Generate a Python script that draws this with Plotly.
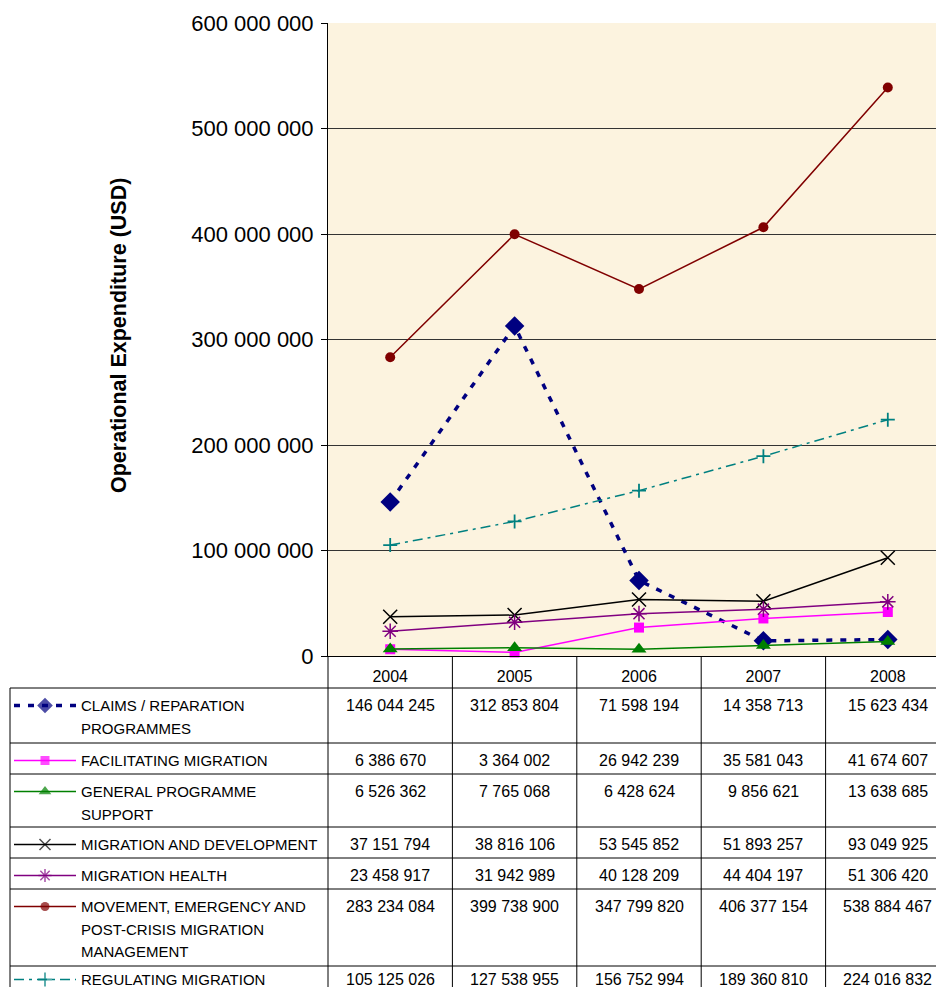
import plotly.graph_objects as go

# ---------------- data ----------------
years = ["2004", "2005", "2006", "2007", "2008"]

claims = [146044245, 312853804, 71598194, 14358713, 15623434]
facilitating = [6386670, 3364002, 26942239, 35581043, 41674607]
general_support = [6526362, 7765068, 6428624, 9856621, 13638685]
migration_dev = [37151794, 38816106, 53545852, 51893257, 93049925]
migration_health = [23458917, 31942989, 40128209, 44404197, 51306420]
movement = [283234084, 399738900, 347799820, 406377154, 538884467]
regulating = [105125026, 127538955, 156752994, 189360810, 224016832]

series_labels = [
    ["CLAIMS / REPARATION", "PROGRAMMES"],
    ["FACILITATING MIGRATION"],
    ["GENERAL PROGRAMME", "SUPPORT"],
    ["MIGRATION AND DEVELOPMENT"],
    ["MIGRATION HEALTH"],
    ["MOVEMENT, EMERGENCY AND", "POST-CRISIS MIGRATION", "MANAGEMENT"],
    ["REGULATING MIGRATION"],
]
series_values = [claims, facilitating, general_support, migration_dev,
                 migration_health, movement, regulating]

y_tickvals = [0, 100e6, 200e6, 300e6, 400e6, 500e6, 600e6]
y_ticktext = ["0", "100 000 000", "200 000 000", "300 000 000",
              "400 000 000", "500 000 000", "600 000 000"]

# ---------------- styles ----------------
styles = [
    dict(color="#000080", width=3.5, dash="6px,8px", symbol="diamond", size=15, mlw=0, ksize=12),
    dict(color="#FF00FF", width=1.5, dash="solid", symbol="square", size=10, mlw=0, ksize=9),
    dict(color="#008000", width=1.5, dash="solid", symbol="triangle-up", size=13, mlw=0, ksize=11),
    dict(color="#000000", width=1.5, dash="solid", symbol="x-thin-open", size=14, mlw=1.5, ksize=11),
    dict(color="#800080", width=1.5, dash="solid", symbol="asterisk-open", size=13, mlw=1.5, ksize=11),
    dict(color="#800000", width=1.5, dash="solid", symbol="circle", size=10, mlw=0, ksize=9),
    dict(color="#008080", width=1.5, dash="10px,5px,3px,5px", symbol="cross-thin-open", size=10, mlw=1.8, ksize=10),
]

W, H = 936, 987
PL, PT, PB = 328, 23, 656
PR = W
COLW = 124.4
XMAX = -0.5 + (PR - PL) / COLW
FONT = "Liberation Sans, Arial, sans-serif"
BG = "#FCF3DF"

fig = go.Figure()

# main series
for name, vals, st in zip(series_labels, series_values, styles):
    fig.add_trace(go.Scatter(
        x=list(range(len(years))), y=vals, mode="lines+markers",
        name=" ".join(name),
        line=dict(color=st["color"], width=st["width"], dash=st["dash"]),
        marker=dict(symbol=st["symbol"], size=st["size"], color=st["color"],
                    line=dict(color=st["color"], width=st["mlw"])),
        xaxis="x", yaxis="y", showlegend=False, cliponaxis=False,
    ))

# ---------------- data table ----------------
shapes = []
annotations = []
row_top0 = 688
line_h = 22.5
row_heights = [55, 31, 53, 31, 31, 77, 31]
row_tops = [row_top0]
for h in row_heights:
    row_tops.append(row_tops[-1] + h)

col_edges = [PL + k * COLW for k in range(len(years) + 1)]

def hline(y, x0, x1):
    shapes.append(dict(type="line", xref="x2", yref="y2", x0=x0, x1=x1, y0=y, y1=y,
                       line=dict(color="black", width=1)))

def vline(x, y0, y1):
    shapes.append(dict(type="line", xref="x2", yref="y2", x0=x, x1=x, y0=y0, y1=y1,
                       line=dict(color="black", width=1)))

for yt in row_tops:
    hline(yt, 10, W + 20)
vline(10, row_top0, row_tops[-1])
for xe in col_edges:
    vline(xe, PB, row_tops[-1])

n_rows = len(series_labels)
for i, (lbl, vals, st) in enumerate(zip(series_labels, series_values, styles)):
    top = row_tops[i]
    yc = top + (13.5 if i == n_rows - 1 else 17.5)
    # legend key
    fig.add_trace(go.Scatter(
        x=[14, 45, 76], y=[yc, yc, yc], mode="lines+markers",
        line=dict(color=st["color"], width=st["width"], dash=st["dash"]),
        marker=dict(symbol=st["symbol"], size=[0, st["ksize"], 0], color=st["color"],
                    line=dict(color=st["color"], width=st["mlw"])),
        xaxis="x2", yaxis="y2", showlegend=False, hoverinfo="skip",
    ))
    for k, txt in enumerate(lbl):
        annotations.append(dict(xref="x2", yref="y2", x=79, y=yc + k * line_h,
                                text=txt, showarrow=False, xanchor="left", yanchor="middle",
                                font=dict(family=FONT, size=15, color="black")))
    for j, v in enumerate(vals):
        annotations.append(dict(xref="x2", yref="y2", x=PL + (j + 0.5) * COLW, y=yc,
                                text=f"{v:,}".replace(",", " "), showarrow=False,
                                xanchor="center", yanchor="middle",
                                font=dict(family=FONT, size=16, color="black")))

# y-axis title
annotations.append(dict(xref="x2", yref="y2", x=119, y=336,
                        text="<b>Operational Expenditure (USD)</b>", textangle=-90,
                        showarrow=False, xanchor="center", yanchor="middle",
                        font=dict(family=FONT, size=21.5, color="black")))

# plot background
shapes.insert(0, dict(type="rect", xref="x domain", yref="y domain", x0=0, x1=1, y0=0, y1=1,
                      fillcolor=BG, line=dict(width=0), layer="below"))

fig.update_layout(
    width=W, height=H,
    margin=dict(l=0, r=0, t=0, b=0),
    paper_bgcolor="white", plot_bgcolor="rgba(0,0,0,0)",
    xaxis=dict(domain=[PL / W, 1], range=[-0.5, XMAX], tickvals=list(range(len(years))),
               ticktext=years, showgrid=False, zeroline=False, showline=True,
               linecolor="black", linewidth=1, ticks="", ticklabelstandoff=6,
               tickfont=dict(family=FONT, size=16, color="black"), automargin=False,
               fixedrange=True, anchor="y"),
    yaxis=dict(domain=[(H - PB) / H, (H - PT) / H], range=[0, 600e6],
               tickvals=y_tickvals, ticktext=y_ticktext, showgrid=True,
               gridcolor="#333333", gridwidth=1, zeroline=False, showline=True,
               linecolor="black", linewidth=1, ticks="outside", ticklen=6,
               ticklabelstandoff=3,
               tickcolor="black", tickfont=dict(family=FONT, size=22, color="black"),
               automargin=False, fixedrange=True, anchor="x"),
    xaxis2=dict(domain=[0, 1], range=[0, W], visible=False, anchor="y2", fixedrange=True),
    yaxis2=dict(domain=[0, 1], range=[H, 0], visible=False, anchor="x2", fixedrange=True),
    shapes=shapes, annotations=annotations,
)

fig.write_html("out.html")
